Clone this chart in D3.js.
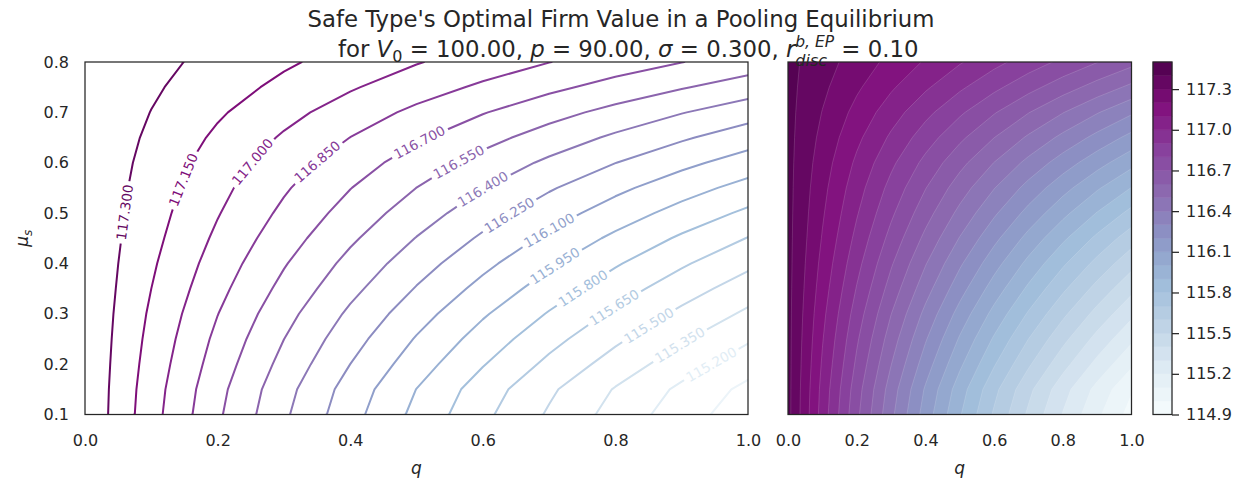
<!DOCTYPE html>
<html>
<head>
<meta charset="utf-8">
<script src="https://cdn.jsdelivr.net/npm/d3@7"></script>
<style>
  body { margin: 0; background: #fff; }
  svg text { font-family: "DejaVu Sans", sans-serif; fill: #262626; }
</style>
</head>
<body>
<svg id="chart" width="1239" height="478"></svg>
<script>
// Grid of the safe type's optimal firm value: rows run over mu_s, columns over q.
const qValues = [0.0, 0.1, 0.2, 0.3, 0.4, 0.5, 0.6, 0.7, 0.8, 0.9, 1.0];
const muValues = [0.10, 0.15, 0.20, 0.25, 0.30, 0.35, 0.40, 0.45, 0.50, 0.55, 0.60, 0.65, 0.70, 0.75, 0.80];
const firmValue = [
  [117.430, 117.057, 116.724, 116.425, 116.155, 115.910, 115.686, 115.482, 115.294, 115.120, 114.960],
  [117.430, 117.069, 116.745, 116.453, 116.188, 115.948, 115.728, 115.526, 115.340, 115.169, 115.010],
  [117.430, 117.088, 116.781, 116.503, 116.250, 116.020, 115.809, 115.615, 115.436, 115.270, 115.116],
  [117.430, 117.107, 116.815, 116.551, 116.310, 116.089, 115.887, 115.700, 115.528, 115.368, 115.219],
  [117.430, 117.127, 116.853, 116.602, 116.373, 116.162, 115.968, 115.789, 115.622, 115.467, 115.323],
  [117.430, 117.150, 116.894, 116.659, 116.442, 116.241, 116.054, 115.881, 115.719, 115.568, 115.426],
  [117.430, 117.171, 116.933, 116.712, 116.507, 116.316, 116.139, 115.972, 115.816, 115.670, 115.532],
  [117.430, 117.193, 116.972, 116.767, 116.575, 116.395, 116.227, 116.068, 115.919, 115.778, 115.645],
  [117.430, 117.212, 117.009, 116.819, 116.641, 116.473, 116.316, 116.168, 116.028, 115.895, 115.770],
  [117.430, 117.230, 117.043, 116.868, 116.704, 116.549, 116.404, 116.266, 116.136, 116.013, 115.897],
  [117.430, 117.250, 117.081, 116.922, 116.772, 116.631, 116.498, 116.372, 116.252, 116.139, 116.031],
  [117.430, 117.273, 117.124, 116.983, 116.849, 116.722, 116.601, 116.485, 116.375, 116.270, 116.169],
  [117.430, 117.297, 117.169, 117.047, 116.929, 116.817, 116.708, 116.604, 116.504, 116.407, 116.314],
  [117.430, 117.321, 117.216, 117.114, 117.015, 116.918, 116.825, 116.734, 116.646, 116.561, 116.477],
  [117.430, 117.342, 117.256, 117.172, 117.090, 117.009, 116.930, 116.853, 116.777, 116.703, 116.630]
];

// Contour levels
const lineLevels = [115.05, 115.20, 115.35, 115.50, 115.65, 115.80, 115.95, 116.10,
                    116.25, 116.40, 116.55, 116.70, 116.85, 117.00, 117.15, 117.30];
const fillLevels = [114.9, 115.0, 115.1, 115.2, 115.3, 115.4, 115.5, 115.6, 115.7, 115.8,
                    115.9, 116.0, 116.1, 116.2, 116.3, 116.4, 116.5, 116.6, 116.7, 116.8,
                    116.9, 117.0, 117.1, 117.2, 117.3, 117.4, 117.5];

// Tick labels
const xTicks = [0.0, 0.2, 0.4, 0.6, 0.8, 1.0];
const yTicks = [0.1, 0.2, 0.3, 0.4, 0.5, 0.6, 0.7, 0.8];
const colorbarTicks = [114.9, 115.2, 115.5, 115.8, 116.1, 116.4, 116.7, 117.0, 117.3];

// Inline labels: level and a hint point (q, mu_s) near which the label sits on its line
const labelLevels = [117.30, 117.15, 117.00, 116.85, 116.70, 116.55, 116.40, 116.25,
                     116.10, 115.95, 115.80, 115.65, 115.50, 115.35, 115.20];
const labelHintQ  = [0.057, 0.148, 0.253, 0.351, 0.505, 0.563, 0.599, 0.638,
                     0.698, 0.706, 0.750, 0.796, 0.848, 0.897, 0.947];
const labelHintMu = [0.502, 0.566, 0.601, 0.601, 0.639, 0.603, 0.550, 0.500,
                     0.470, 0.401, 0.353, 0.317, 0.282, 0.238, 0.194];

// BuPu palette stops
const buPu = ["#f7fcfd", "#e0ecf4", "#bfd3e6", "#9ebcda", "#8c96c6",
              "#8c6bb1", "#88419d", "#810f7c", "#4d004b"];
const buPuScale = d3.scaleLinear().domain(d3.range(buPu.length).map(i => i / (buPu.length - 1)))
  .range(buPu).interpolate(d3.interpolateRgb);
const lineColor = v => buPuScale((v - 114.9) / (117.45 - 114.9));
const fillColor = v => buPuScale((v - fillLevels[0]) / (fillLevels[fillLevels.length - 1] - fillLevels[0]));

const W = 1239, H = 478;
const svg = d3.select("#chart");
const defs = svg.append("defs");
svg.append("rect").attr("width", W).attr("height", H).attr("fill", "#fff");

const plotTop = 62, plotBottom = 414.5;
const xL = d3.scaleLinear().domain([0, 1]).range([85, 748]);
const xR = d3.scaleLinear().domain([0, 1]).range([788, 1131.5]);
const yS = d3.scaleLinear().domain([0.1, 0.8]).range([plotBottom, plotTop]);
const cbX0 = 1153, cbX1 = 1172;
const yCb = d3.scaleLinear().domain([fillLevels[0], fillLevels[fillLevels.length - 1]]).range([plotBottom, plotTop]);

const tickFont = 16;

// grid coordinates (sample i sits at i + 0.5) -> data coordinates
const nx = qValues.length, ny = muValues.length;
const gx2q = d3.scaleLinear().domain([0.5, nx - 0.5]).range([qValues[0], qValues[nx - 1]]);
const gy2mu = d3.scaleLinear().domain([0.5, ny - 0.5]).range([muValues[0], muValues[ny - 1]]);
const flat = firmValue.flat();

function gridPath(xs) {
  return d3.geoPath(d3.geoTransform({
    point(gx, gy) { this.stream.point(xs(gx2q(gx)), yS(gy2mu(gy))); }
  }));
}

function addClip(id, xs) {
  defs.append("clipPath").attr("id", id).append("rect")
    .attr("x", xs.range()[0]).attr("y", plotTop)
    .attr("width", xs.range()[1] - xs.range()[0]).attr("height", plotBottom - plotTop);
}
addClip("clipL", xL);
addClip("clipR", xR);

// ---------- Left panel: labelled contour lines ----------
const lineContours = d3.contours().size([nx, ny]).thresholds(lineLevels)(flat);
const pathL = gridPath(xL);
const gLines = svg.append("g").attr("clip-path", "url(#clipL)");
const gLabels = svg.append("g");
const fmt = d3.format(".3f");

function ringsInPixels(c) {
  const rings = [];
  c.coordinates.forEach(poly => poly.forEach(ring => {
    rings.push(ring.map(([gx, gy]) => [xL(gx2q(gx)), yS(gy2mu(gy))]));
  }));
  return rings;
}

function pointAlong(ring, k, t, dist) {
  // walk from a point on segment k (fraction t) a signed distance along the ring
  const n = ring.length;
  let p = [ring[k][0] + t * (ring[k + 1][0] - ring[k][0]), ring[k][1] + t * (ring[k + 1][1] - ring[k][1])];
  let remaining = Math.abs(dist);
  let idx = dist > 0 ? k + 1 : k;
  const step = dist > 0 ? 1 : -1;
  let guard = 0;
  while (remaining > 0 && guard++ < n) {
    const q = ring[((idx % n) + n) % n];
    const d = Math.hypot(q[0] - p[0], q[1] - p[1]);
    if (d >= remaining && d > 0) {
      return [p[0] + (q[0] - p[0]) * remaining / d, p[1] + (q[1] - p[1]) * remaining / d];
    }
    remaining -= d; p = q; idx += step;
  }
  return p;
}

const insidePlot = p => p[0] >= 85 && p[0] <= 748 && p[1] >= plotTop && p[1] <= plotBottom;

lineContours.forEach(c => {
  const color = lineColor(c.value);
  const li = labelLevels.findIndex(v => Math.abs(v - c.value) < 1e-6);
  const path = gLines.append("path")
    .attr("d", pathL(c))
    .attr("fill", "none")
    .attr("stroke", color)
    .attr("stroke-width", 2)
    .attr("stroke-linejoin", "round");
  if (li < 0) return;

  const hx = xL(labelHintQ[li]), hy = yS(labelHintMu[li]);
  let best = null;
  ringsInPixels(c).forEach(ring => {
    for (let k = 0; k < ring.length - 1; k++) {
      const a = ring[k], b = ring[k + 1];
      if (!insidePlot(a) || !insidePlot(b)) continue;
      const dx = b[0] - a[0], dy = b[1] - a[1];
      const L2 = dx * dx + dy * dy || 1;
      let t = ((hx - a[0]) * dx + (hy - a[1]) * dy) / L2;
      t = Math.max(0, Math.min(1, t));
      const px = a[0] + t * dx, py = a[1] + t * dy;
      const d = Math.hypot(px - hx, py - hy);
      if (!best || d < best.d) best = { d, ring, k, t, px, py };
    }
  });
  if (!best) return;
  const A = pointAlong(best.ring, best.k, best.t, -16);
  const B = pointAlong(best.ring, best.k, best.t, 16);
  let ang = Math.atan2(B[1] - A[1], B[0] - A[0]) * 180 / Math.PI;
  if (ang > 90) ang -= 180;
  if (ang < -90) ang += 180;

  const label = gLabels.append("text")
    .attr("transform", `translate(${best.px},${best.py}) rotate(${ang})`)
    .attr("text-anchor", "middle")
    .attr("dy", "0.36em")
    .attr("font-size", 13.5)
    .style("fill", color)
    .text(fmt(c.value));
  const w = label.node().getComputedTextLength() + 7;

  const id = "lm" + li;
  const mask = defs.append("mask").attr("id", id).attr("maskUnits", "userSpaceOnUse")
    .attr("x", 0).attr("y", 0).attr("width", W).attr("height", H);
  mask.append("rect").attr("width", W).attr("height", H).attr("fill", "#fff");
  mask.append("rect")
    .attr("x", -w / 2).attr("y", -7).attr("width", w).attr("height", 14)
    .attr("transform", `translate(${best.px},${best.py}) rotate(${ang})`)
    .attr("fill", "#000");
  path.attr("mask", `url(#${id})`);
});

// ---------- Right panel: filled contours ----------
const fillContours = d3.contours().size([nx, ny]).thresholds(fillLevels.slice(0, -1))(flat);
const pathR = gridPath(xR);
svg.append("g").attr("clip-path", "url(#clipR)")
  .selectAll("path").data(fillContours).join("path")
  .attr("d", pathR)
  .attr("fill", (c, i) => fillColor((fillLevels[i] + fillLevels[i + 1]) / 2))
  .attr("stroke", "rgba(255,255,255,0.25)")
  .attr("stroke-width", 0.6);

// ---------- Colorbar ----------
const cb = svg.append("g");
cb.selectAll("rect.band").data(d3.range(fillLevels.length - 1)).join("rect")
  .attr("class", "band")
  .attr("x", cbX0).attr("width", cbX1 - cbX0)
  .attr("y", i => yCb(fillLevels[i + 1]))
  .attr("height", i => yCb(fillLevels[i]) - yCb(fillLevels[i + 1]))
  .attr("fill", i => fillColor((fillLevels[i] + fillLevels[i + 1]) / 2))
  .attr("stroke", i => fillColor((fillLevels[i] + fillLevels[i + 1]) / 2))
  .attr("stroke-width", 0.5);
cb.append("rect").attr("x", cbX0).attr("y", plotTop).attr("width", cbX1 - cbX0).attr("height", plotBottom - plotTop)
  .attr("fill", "none").attr("stroke", "#262626").attr("stroke-width", 1.25);
const cbAxis = d3.axisRight(yCb).tickValues(colorbarTicks).tickFormat(d3.format(".1f"))
  .tickSize(7).tickPadding(7);
const cbG = svg.append("g").attr("transform", `translate(${cbX1},0)`).call(cbAxis);
cbG.select(".domain").remove();
cbG.selectAll(".tick line").attr("stroke", "#262626").attr("stroke-width", 1.25);
cbG.selectAll(".tick text").attr("font-size", tickFont).attr("font-family", null);

// ---------- Axes frames and tick labels ----------
function frame(xs) {
  svg.append("rect").attr("x", xs.range()[0]).attr("y", plotTop)
    .attr("width", xs.range()[1] - xs.range()[0]).attr("height", plotBottom - plotTop)
    .attr("fill", "none").attr("stroke", "#262626").attr("stroke-width", 1.25);
}
frame(xL); frame(xR);

function xAxis(xs) {
  const g = svg.append("g").attr("transform", `translate(0,${plotBottom})`)
    .call(d3.axisBottom(xs).tickValues(xTicks).tickFormat(d3.format(".1f")).tickSize(0).tickPadding(20));
  g.select(".domain").remove();
  g.selectAll(".tick text").attr("font-size", tickFont).attr("font-family", null);
  svg.append("text").attr("x", xs(0.5)).attr("y", 474).attr("text-anchor", "middle")
    .attr("font-size", 17).attr("font-style", "italic").text("q");
}
xAxis(xL); xAxis(xR);

const gy = svg.append("g").attr("transform", `translate(${xL(0)},0)`)
  .call(d3.axisLeft(yS).tickValues(yTicks).tickFormat(d3.format(".1f")).tickSize(0).tickPadding(16));
gy.select(".domain").remove();
gy.selectAll(".tick text").attr("font-size", tickFont).attr("font-family", null);
svg.selectAll(".tick text").style("fill", "#262626");

// y label: mu_s
const yl = svg.append("text").attr("transform", `translate(28,${yS(0.45)}) rotate(-90)`)
  .attr("text-anchor", "middle").attr("font-size", 17);
yl.append("tspan").attr("font-style", "italic").text("μ");
yl.append("tspan").attr("font-style", "italic").attr("font-size", 12).attr("dy", 4).text("s");

// ---------- Title ----------
svg.append("text").attr("x", 621).attr("y", 27).attr("text-anchor", "middle")
  .attr("font-size", 22.8).text("Safe Type's Optimal Firm Value in a Pooling Equilibrium");

const t2 = svg.append("text").attr("x", 0).attr("y", 57).attr("font-size", 22.8);
function part(txt, o = {}) {
  const s = t2.append("tspan").text(txt);
  if (o.italic) s.attr("font-style", "italic");
  if (o.size) s.attr("font-size", o.size);
  if (o.dy) s.attr("dy", o.dy);
  if (o.dx) s.attr("dx", o.dx);
  return s;
}
part("for ");
part("V", { italic: true });
part("0", { size: 16, dy: 5 });
part(" =  100.00, ", { dy: -5 });
part("p", { italic: true });
part(" =  90.00, ");
part("σ", { italic: true });
part(" =  0.300, ");
part("r", { italic: true });
const sup = part("b, EP", { italic: true, size: 15.5, dy: -10 });
const supW = sup.node().getComputedTextLength();
const sub = part("disc", { italic: true, size: 16, dy: 19, dx: -supW });
const subW = sub.node().getComputedTextLength();
part(" =  0.10", { dy: -9, dx: Math.max(0, supW - subW) });
// place the second line so that it starts where the first line's block begins
const bb = t2.node().getBBox();
t2.attr("x", 338 - bb.x);
</script>
</body>
</html>
